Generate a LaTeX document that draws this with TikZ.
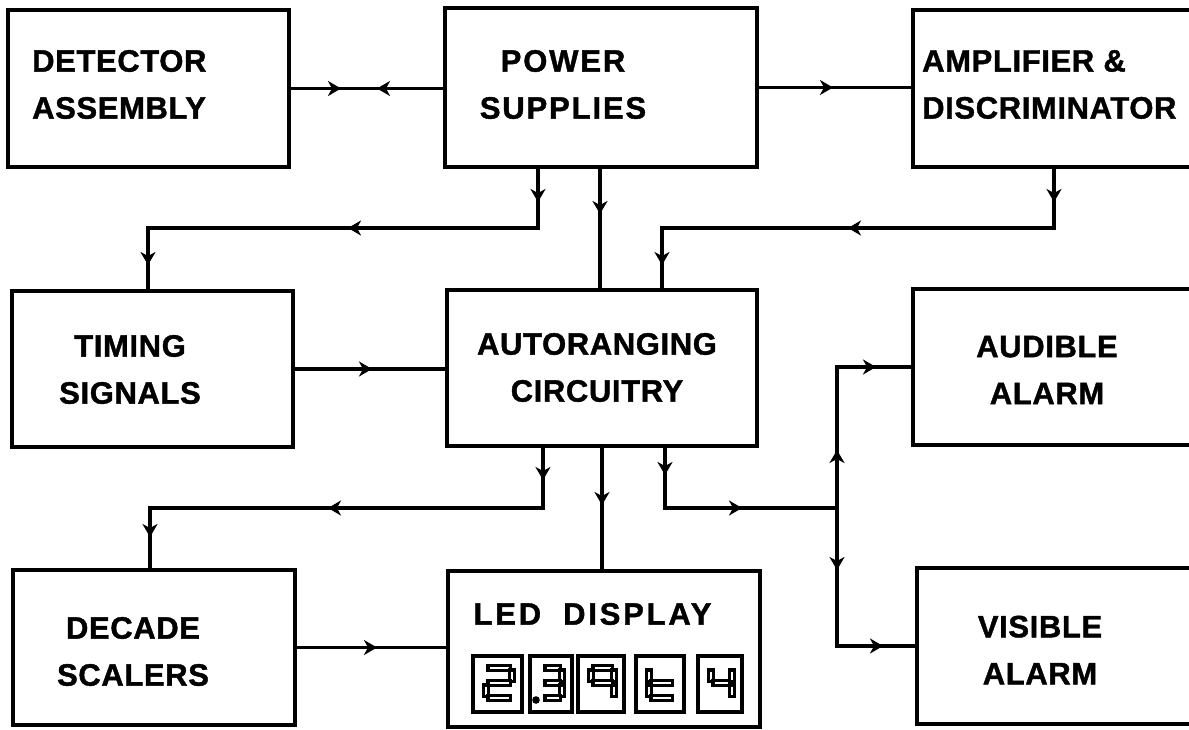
\documentclass[tikz,border=0pt]{standalone}
\usepackage{fontspec}
\setmainfont{Liberation Sans}[LetterSpace=2,BoldFeatures={FakeBold=1.3}]
\usetikzlibrary{arrows.meta,decorations.markings}
\newcommand\lblfont{\fontsize{31}{47}\selectfont\bfseries}
\tikzset{
  ah/.tip={Stealth[length=13pt,width=15pt,inset=4pt]},
  blk/.style={draw, line width=4pt, rectangle, inner sep=0pt},
  lbl/.style={font=\lblfont, inner sep=0pt},
  conn/.style={line width=3.5pt, postaction={decorate}},
  digbox/.style={line width=3.5pt},
  segout/.style={line width=7.5pt, line cap=square},
  segin/.style={line width=2.4pt, white, shorten <=3.5pt, shorten >=3.5pt},
}
\newcommand\segline[2]{\draw[segout] #1 -- #2; \draw[segin] #1 -- #2;}
\def\yt{668}\def\ym{683}\def\yb{698}
\newcommand\ssga{\segline{(\xl,\yt)}{(\xr,\yt)}}
\newcommand\ssgb{\segline{(\xr,\yt)}{(\xr,\ym)}}
\newcommand\ssgc{\segline{(\xr,\ym)}{(\xr,\yb)}}
\newcommand\ssgd{\segline{(\xl,\yb)}{(\xr,\yb)}}
\newcommand\ssge{\segline{(\xl,\ym)}{(\xl,\yb)}}
\newcommand\ssgf{\segline{(\xl,\yt)}{(\xl,\ym)}}
\newcommand\ssgg{\segline{(\xl,\ym)}{(\xr,\ym)}}
\newcommand\ledbox[3]{%
  \draw[digbox] (#1,656) rectangle (#2,712);
  \pgfmathsetmacro\xl{#1+13}\pgfmathsetmacro\xr{#2-10}%
  \foreach \s in {#3}{\csname ssg\s\endcsname}}
\begin{document}
\begin{tikzpicture}[x=1pt,y=-1pt]
\clip (0,0) rectangle (1189,729);
% boxes
\node[blk, minimum width=281pt, minimum height=157pt] (det) at (148.5,88.5) {};
\node[blk, minimum width=312pt, minimum height=159pt] (pow) at (601,87.5) {};
\node[blk, minimum width=287pt, minimum height=157pt] (amp) at (1056.5,88.5) {};
\node[blk, minimum width=281pt, minimum height=156pt] (tim) at (152.5,369) {};
\node[blk, minimum width=310pt, minimum height=156pt] (aut) at (602,368) {};
\node[blk, minimum width=287pt, minimum height=156pt] (aud) at (1056.5,367) {};
\node[blk, minimum width=282pt, minimum height=155pt] (dec) at (154,647.5) {};
\node[blk, minimum width=312pt, minimum height=156pt] (led) at (604,649) {};
\node[blk, minimum width=283pt, minimum height=156pt] (vis) at (1058.5,646) {};
% labels
\node[lbl, anchor=west, align=left] (tdet) at (32,84.5) {DETECTOR\\ASSEMBLY};
\node[lbl, align=center, font=\lblfont\addfontfeatures{LetterSpace=6}] (tpow) at (563,84.5) {POWER\\SUPPLIES};
\node[lbl, anchor=west, align=left] (tamp) at (922,84.5) {AMPLIFIER \&\\DISCRIMINATOR};
\node[lbl, align=center] (ttim) at (130,369.5) {TIMING\\SIGNALS};
\node[lbl, align=center] (taut) at (597,367.5) {AUTORANGING\\CIRCUITRY};
\node[lbl, align=center] (taud) at (1047,370) {AUDIBLE\\ALARM};
\node[lbl, align=center] (tdec) at (133,651.5) {DECADE\\SCALERS};
\node[lbl, align=center] (tvis) at (1040,650) {VISIBLE\\ALARM};
\node[lbl, font=\lblfont\addfontfeatures{LetterSpace=9}] (tled) at (592.5,614) {LED\hskip 22pt DISPLAY};
% digits
\ledbox{473}{522}{a,b,g,e,d}
\ledbox{530}{572}{a,b,g,c,d}
\fill (536,700) circle (3.8pt);
\ledbox{578}{624}{a,b,c,f,g}
\ledbox{636}{684}{f,e,g,d}
\ledbox{698}{742}{f,g,b,c}
% junction coordinates
\coordinate (p1) at (538,228);
\coordinate (p2) at (148,228);
\coordinate (p3) at (600,228);
\coordinate (q1) at (1054,228);
\coordinate (q2) at (662,228);
\coordinate (r1) at (543,508);
\coordinate (r2) at (150,508);
\coordinate (r3) at (602,508);
\coordinate (r4) at (665,508);
\coordinate (jr) at (837,508);
% connectors
\draw[conn, decoration={markings, mark=at position 50pt with {\arrow{ah}}, mark=at position 86pt with {\arrowreversed{ah}}}]
  (det.east) -- (det.east -| pow.west);
\draw[conn, decoration={markings, mark=at position 74pt with {\arrow{ah}}}]
  (pow.east) -- (pow.east -| amp.west);
\draw[conn, decoration={markings, mark=at position 33pt with {\arrow{ah}}, mark=at position 249pt with {\arrow{ah}}, mark=at position 486pt with {\arrow{ah}}}]
  (pow.south -| p1) -- (p1) -- (p2) -- (p2 |- tim.north);
\draw[conn, decoration={markings, mark=at position 45pt with {\arrow{ah}}}]
  (pow.south -| p3) -- (p3 |- aut.north);
\draw[conn, decoration={markings, mark=at position 33pt with {\arrow{ah}}, mark=at position 265pt with {\arrow{ah}}, mark=at position 488pt with {\arrow{ah}}}]
  (amp.south -| q1) -- (q1) -- (q2) -- (q2 |- aut.north);
\draw[conn, decoration={markings, mark=at position 77pt with {\arrow{ah}}}]
  (tim.east) -- (tim.east -| aut.west);
\draw[conn, decoration={markings, mark=at position 32pt with {\arrow{ah}}, mark=at position 275pt with {\arrow{ah}}, mark=at position 482pt with {\arrow{ah}}}]
  (aut.south -| r1) -- (r1) -- (r2) -- (r2 |- dec.north);
\draw[conn, decoration={markings, mark=at position 57pt with {\arrow{ah}}}]
  (aut.south -| r3) -- (r3 |- led.north);
\draw[conn, decoration={markings, mark=at position 27pt with {\arrow{ah}}, mark=at position 137pt with {\arrow{ah}}}]
  (aut.south -| r4) -- (r4) -- (jr);
\draw[conn, decoration={markings, mark=at position 58pt with {\arrow{ah}}, mark=at position 180pt with {\arrow{ah}}}]
  (jr) -- (jr |- aud.west) -- (aud.west);
\draw[conn, decoration={markings, mark=at position 62pt with {\arrow{ah}}, mark=at position 184pt with {\arrow{ah}}}]
  (jr) -- (jr |- vis.west) -- (vis.west);
\draw[conn, decoration={markings, mark=at position 80pt with {\arrow{ah}}}]
  (dec.east) -- (dec.east -| led.west);
\end{tikzpicture}
\end{document}
